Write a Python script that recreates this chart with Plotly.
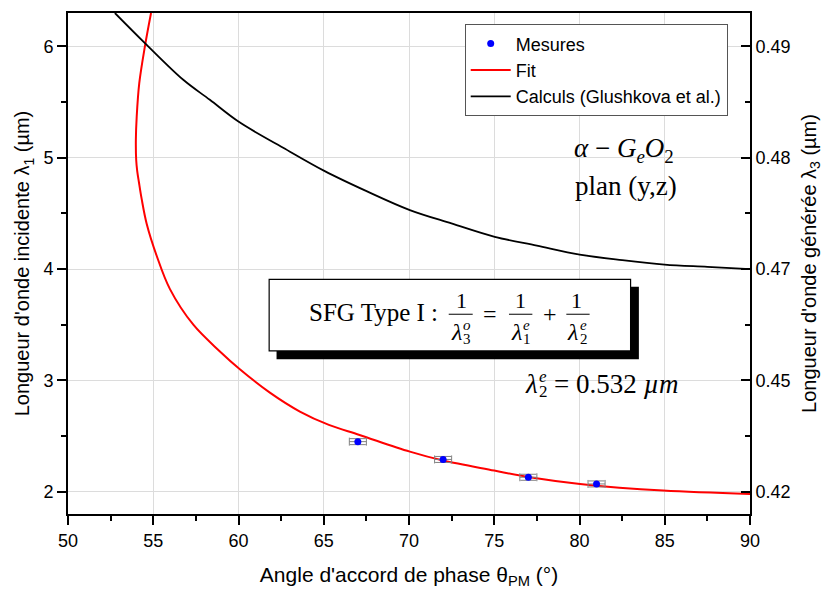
import plotly.graph_objects as go

# ---------------- data ----------------
theta_mes = [67.0, 72.0, 77.0, 81.0]
lam1_mes = [2.45, 2.29, 2.13, 2.07]
theta_err = [0.5, 0.5, 0.5, 0.5]
lam1_err = [0.027, 0.027, 0.027, 0.027]

theta_fit = [54.87, 54.51, 54.18, 54.03, 53.98, 54.00, 54.06, 54.16, 54.32, 54.61,
             55.20, 55.98, 57.35, 58.91, 60.08, 61.84, 63.60, 65.30, 67.10,
             70.05, 72.00, 75.00, 77.08, 80.03, 84.90, 90.00]
lam1_fit = [6.30, 6.00, 5.67, 5.37, 5.16, 4.98, 4.88, 4.78, 4.63, 4.41,
            4.12, 3.82, 3.50, 3.26, 3.10, 2.89, 2.72, 2.60, 2.51,
            2.36, 2.28, 2.19, 2.13, 2.07, 2.01, 1.98]

theta_calc = [52.75, 54.51, 56.76, 58.32, 60.04, 62.62, 65.06, 67.51, 70.05, 72.49, 75.03,
              77.50, 80.01, 82.50, 84.99, 87.50, 90.00]
lam1_calc = [6.30, 6.03, 5.70, 5.52, 5.32, 5.09, 4.88, 4.70, 4.53, 4.41, 4.29,
             4.21, 4.13, 4.08, 4.04, 4.02, 4.00]

x_ticks = [50, 55, 60, 65, 70, 75, 80, 85, 90]
left_ticks = [2, 3, 4, 5, 6]
right_ticklabels = ["0.42", "0.45", "0.47", "0.48", "0.49"]

# ---------------- layout geometry ----------------
OFF = 8  # default page body margin
W, H = 830 - OFF, 589 - OFF
L, R, T, B = 68, 750.5, 12.7, 514.3   # plot area in window pixels
SANS = "Liberation Sans, Arial, sans-serif"
SERIF = "Liberation Serif, Times New Roman, serif"


def px(x, y):
    return (x - L) / (R - L), (B - y) / (B - T)


fig = go.Figure()

fig.add_trace(go.Scatter(
    x=theta_fit, y=lam1_fit, mode="lines", name="Fit",
    line=dict(color="#ff0000", width=2, shape="spline", smoothing=1.0),
    legendrank=2))
fig.add_trace(go.Scatter(
    x=theta_calc, y=lam1_calc, mode="lines", name="Calculs (Glushkova et al.)",
    line=dict(color="black", width=1.8, shape="spline", smoothing=1.0),
    legendrank=3))
fig.add_trace(go.Scatter(
    x=theta_mes, y=lam1_mes, mode="markers", name="Mesures",
    marker=dict(color="#0000ff", size=7),
    error_x=dict(type="data", array=theta_err, color="#808080", thickness=1, width=4),
    error_y=dict(type="data", array=lam1_err, color="#808080", thickness=1, width=8),
    legendrank=1))
# invisible trace so that the right axis is drawn
fig.add_trace(go.Scatter(
    x=theta_mes, y=lam1_mes, mode="markers", yaxis="y2", showlegend=False,
    hoverinfo="skip", marker=dict(opacity=0, size=1)))

annotations = []
shapes = []


def txt(x, y, s, size, family=SERIF, xanchor="center"):
    xp, yp = px(x, y)
    annotations.append(dict(x=xp, y=yp, xref="paper", yref="paper", text=s,
                            showarrow=False, xanchor=xanchor, yanchor="middle",
                            borderpad=0,
                            font=dict(family=family, size=size, color="black")))


def hline(x0, x1, y, width=1):
    a0, b0 = px(x0, y)
    a1, _ = px(x1, y)
    shapes.append(dict(type="line", xref="paper", yref="paper", x0=a0, x1=a1, y0=b0, y1=b0,
                       line=dict(color="black", width=width), layer="above"))


def rect(x0, y0, x1, y1, fill, line_w):
    a0, b0 = px(x0, y0)
    a1, b1 = px(x1, y1)
    shapes.append(dict(type="rect", xref="paper", yref="paper", x0=a0, x1=a1, y0=b0, y1=b1,
                       fillcolor=fill, line=dict(color="black", width=line_w), layer="above"))


# formula box with shadow
rect(276.7, 286.7, 639.3, 359.3, "black", 0)
rect(269.3, 279.3, 631, 351, "white", 1.2)

txt(374, 313, "SFG Type I :", 25)
# fraction 1
txt(461.7, 301, "1", 22)
hline(449, 473, 314.3)
txt(456.7, 332, "<i>λ</i>", 24)
txt(467, 325, "<i>o</i>", 15)
txt(467.5, 339.5, "3", 15)
txt(490, 314.5, "=", 24)
# fraction 2
txt(520.5, 301, "1", 22)
hline(509.3, 532.7, 314.3)
txt(516.7, 332, "<i>λ</i>", 24)
txt(527, 325, "<i>e</i>", 15)
txt(527.5, 339.5, "1", 15)
txt(550, 314.5, "+", 24)
# fraction 3
txt(577, 301, "1", 22)
hline(566.7, 590, 314.3)
txt(573.3, 332, "<i>λ</i>", 24)
txt(583.8, 325, "<i>e</i>", 15)
txt(584.5, 339.5, "2", 15)

# lambda2 value
txt(531.7, 384, "<i>λ</i>", 27)
txt(543, 377, "<i>e</i>", 17)
txt(543.5, 392, "2", 17)
txt(553, 384, "= 0.532 <i>µm</i>", 27, xanchor="left")

# material label
txt(624, 150, "<i>α</i> − <i>G</i><sub><i>e</i></sub><i>O</i><sub>2</sub>", 27)
txt(626, 186, "plan (y,z)", 27)

lx, ly = px(465, 24)

fig.update_layout(
    width=W, height=H,
    margin=dict(l=L - OFF, r=W - (R - OFF), t=T - OFF, b=H - (B - OFF), pad=0),
    paper_bgcolor="white", plot_bgcolor="white",
    font=dict(family=SANS, size=18, color="black"),
    showlegend=True,
    legend=dict(x=lx, y=ly, xanchor="left", yanchor="top",
                bgcolor="white", bordercolor="#555555", borderwidth=1,
                font=dict(family=SANS, size=18, color="black"),
                tracegroupgap=0, itemwidth=40),
    annotations=annotations,
    shapes=shapes,
    xaxis=dict(
        range=[50, 90], tickvals=x_ticks, ticks="outside", ticklen=9, tickwidth=1.5,
        tickcolor="black", showline=True, linecolor="black", linewidth=2, mirror=True,
        showgrid=True, gridcolor="#dcdcdc", gridwidth=1, zeroline=False,
        tickfont=dict(family=SANS, size=18),
        minor=dict(dtick=2.5, tick0=50, ticks="outside", ticklen=5, tickcolor="black",
                   tickwidth=1.5, showgrid=False),
        title=dict(text="Angle d'accord de phase θ<sub>PM</sub> (°)",
                   font=dict(family=SANS, size=21), standoff=20),
        automargin=False),
    yaxis=dict(
        range=[1.8, 6.3], tickvals=left_ticks, ticks="outside", ticklen=9, tickwidth=1.5,
        tickcolor="black", showline=True, linecolor="black", linewidth=2,
        showgrid=True, gridcolor="#dcdcdc", gridwidth=1, zeroline=False,
        tickfont=dict(family=SANS, size=18),
        minor=dict(dtick=0.5, tick0=2, ticks="outside", ticklen=5, tickcolor="black",
                   tickwidth=1.5, showgrid=False),
        title=dict(text="Longueur d'onde incidente λ<sub>1</sub> (µm)",
                   font=dict(family=SANS, size=20), standoff=8),
        automargin=False),
    yaxis2=dict(
        range=[1.8, 6.3], overlaying="y", side="right", anchor="x",
        tickvals=left_ticks, ticktext=right_ticklabels,
        ticks="inside", ticklen=9, tickwidth=1.5, tickcolor="black",
        showline=True, linecolor="black", linewidth=2,
        showgrid=False, zeroline=False,
        tickfont=dict(family=SANS, size=18),
        minor=dict(dtick=0.5, tick0=2, ticks="inside", ticklen=5, tickcolor="black",
                   tickwidth=1.5, showgrid=False),
        title=dict(text="Longueur d'onde générée λ<sub>3</sub> (µm)",
                   font=dict(family=SANS, size=20), standoff=12),
        automargin=False),
)

fig.write_html("out.html")
